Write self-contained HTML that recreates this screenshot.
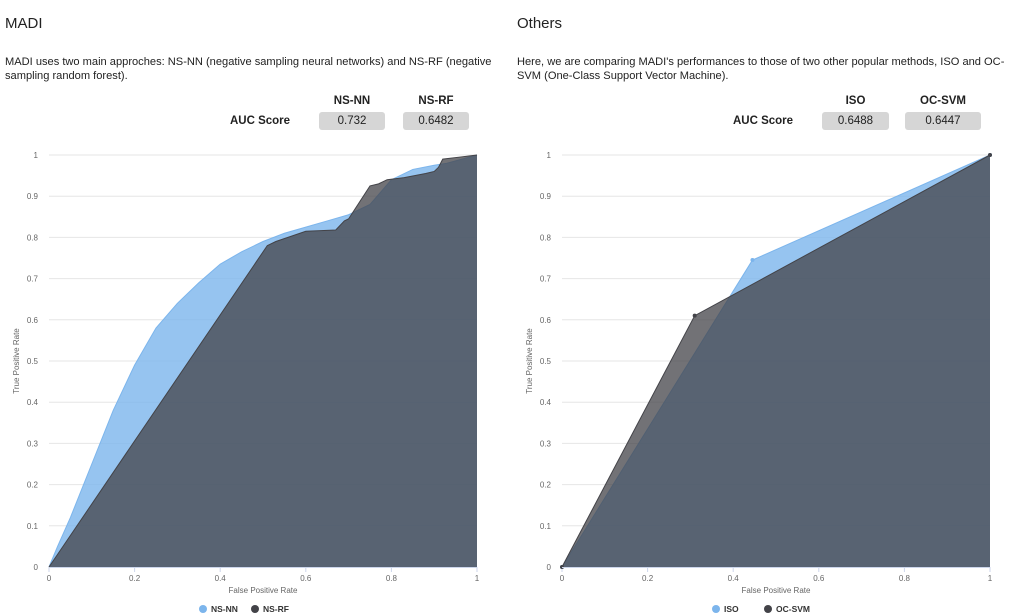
<!DOCTYPE html>
<html><head><meta charset="utf-8">
<style>
body{margin:0;width:1014px;height:614px;background:#fff;font-family:"Liberation Sans",sans-serif;position:relative;overflow:hidden;color:#222}
.t{position:absolute;font-size:15px}
.d{position:absolute;font-size:11.1px;line-height:14px;width:510px}
.h{position:absolute;font-size:11.5px;font-weight:bold;text-align:center}
.b{position:absolute;background:#d6d6d6;border-radius:3px;font-size:11.5px;text-align:center;height:18px;line-height:18px}
svg{position:absolute;left:0;top:0}
</style></head><body>
<div class="t" style="left:5px;top:15px">MADI</div>
<div class="d" style="left:5px;top:55px;white-space:nowrap">MADI uses two main approches: NS-NN (negative sampling neural networks) and NS-RF (negative<br>sampling random forest).</div>
<div class="h" style="left:319px;top:95px;width:66px">NS-NN</div>
<div class="h" style="left:403px;top:95px;width:66px">NS-RF</div>
<div class="h" style="left:225px;top:115px;width:70px">AUC Score</div>
<div class="b" style="left:319px;top:112px;width:66px">0.732</div>
<div class="b" style="left:403px;top:112px;width:66px">0.6482</div>

<div class="t" style="left:517px;top:15px">Others</div>
<div class="d" style="left:517px;top:55px;width:497px;white-space:nowrap">Here, we are comparing MADI's performances to those of two other popular methods, ISO and OC-<br>SVM (One-Class Support Vector Machine).</div>
<div class="h" style="left:822px;top:95px;width:67px">ISO</div>
<div class="h" style="left:905px;top:95px;width:76px">OC-SVM</div>
<div class="h" style="left:728px;top:115px;width:70px">AUC Score</div>
<div class="b" style="left:822px;top:112px;width:67px">0.6488</div>
<div class="b" style="left:905px;top:112px;width:76px">0.6447</div>

<svg id="c" width="1014" height="614"></svg>
<script>
const nnX=[0,0.02,0.05,0.1,0.15,0.2,0.25,0.3,0.35,0.4,0.45,0.5,0.55,0.6,0.65,0.7,0.75,0.8,0.85,0.9,0.93,1];
const nnY=[0,0.05,0.12,0.25,0.38,0.49,0.58,0.64,0.69,0.735,0.765,0.79,0.81,0.825,0.84,0.855,0.88,0.94,0.965,0.975,0.98,1];
const rfX=[0,0.51,0.53,0.6,0.67,0.69,0.7,0.75,0.77,0.79,0.83,0.88,0.9,0.91,0.92,0.96,1];
const rfY=[0,0.78,0.79,0.815,0.818,0.84,0.845,0.925,0.93,0.94,0.945,0.955,0.96,0.97,0.99,0.995,1];
const isoX=[0,0.445,1];
const isoY=[0,0.745,1];
const svmX=[0,0.31,1];
const svmY=[0,0.61,1];
const ticks=[0,0.1,0.2,0.3,0.4,0.5,0.6,0.7,0.8,0.9,1];
const xticks=[0,0.2,0.4,0.6,0.8,1];
const NS='http://www.w3.org/2000/svg';
const svg=document.getElementById('c');
function mk(t,a,p){const e=document.createElementNS(NS,t);for(const k in a)e.setAttribute(k,a[k]);(p||svg).appendChild(e);return e;}
function chart(x0,names,series,markers){
  const x1=x0+428,yT=155,yB=567;
  const sx=v=>x0+v*(x1-x0), sy=v=>yB-v*(yB-yT);
  const g=mk('g',{});
  
  
  ticks.forEach(t=>{
    const l=mk('line',{x1:x0,x2:x1,y1:sy(t),y2:sy(t),stroke:'#e6e6e6','stroke-width':1},g);
    
    
    const tx=mk('text',{x:x0-11,y:sy(t)+3,'font-size':8,fill:'#666','text-anchor':'end'},g);tx.textContent=String(t);
    
    
  });
  xticks.forEach(t=>{
    mk('line',{x1:sx(t),x2:sx(t),y1:yB,y2:yB+5,stroke:'#ccd6eb'},g);
    const tx=mk('text',{x:sx(t),y:yB+14,'font-size':8,fill:'#666','text-anchor':'middle'},g);tx.textContent=String(t);
    
    
  });
  const cols=[['rgba(124,181,236,0.8)','#7cb5ec'],['rgba(67,67,72,0.75)','#434348']];
  series.forEach((s,i)=>{
    let d=s[0].map((v,j)=>(j?'L':'M')+sx(v)+','+sy(s[1][j])).join(' ');
    const a=mk('path',{d:d+' L'+sx(1)+','+yB+' L'+sx(0)+','+yB+' Z',fill:cols[i][0],stroke:'none'},g);
    
    
    const ln=mk('path',{d:d,fill:'none',stroke:cols[i][1],'stroke-width':1},g);
    
    
    if(markers) s[0].forEach((v,j)=>{
      const m=mk('circle',{cx:sx(v),cy:sy(s[1][j]),r:2,fill:cols[i][1]},g);
      
      
    });
  });
  mk('line',{x1:x0,x2:x1,y1:yB+0.5,y2:yB+0.5,stroke:'#ccd6eb'},g);
  const xt=mk('text',{x:(x0+x1)/2,y:yB+26,'font-size':8,fill:'#666','text-anchor':'middle'},g);xt.textContent='False Positive Rate';
  
  
  const yt=mk('text',{x:0,y:0,'font-size':8,fill:'#666','text-anchor':'middle',transform:`translate(${x0-30},${(yT+yB)/2}) rotate(-90)`},g);yt.textContent='True Positive Rate';
  
  
  const cx=(x0+x1)/2;
  [[cx-60,series[0][3],'#7cb5ec'],[cx-8,series[1][3],'#434348']].forEach(([lx,name,c])=>{
    const le=mk('g',{},g);
    
    
    mk('circle',{cx:lx,cy:609,r:4,fill:c},le);
    const t=mk('text',{x:lx+8,y:612,'font-size':8.5,fill:'#333','font-weight':'bold'},le);t.textContent=name;
  });
}
chart(49,{id:'madi-roc-chart'},[[nnX,nnY,'nsnn','NS-NN'],[rfX,rfY,'nsrf','NS-RF']],false);
chart(562,{id:'others-roc-chart'},[[isoX,isoY,'iso','ISO'],[svmX,svmY,'ocsvm','OC-SVM']],true);
</script>
</body></html>
